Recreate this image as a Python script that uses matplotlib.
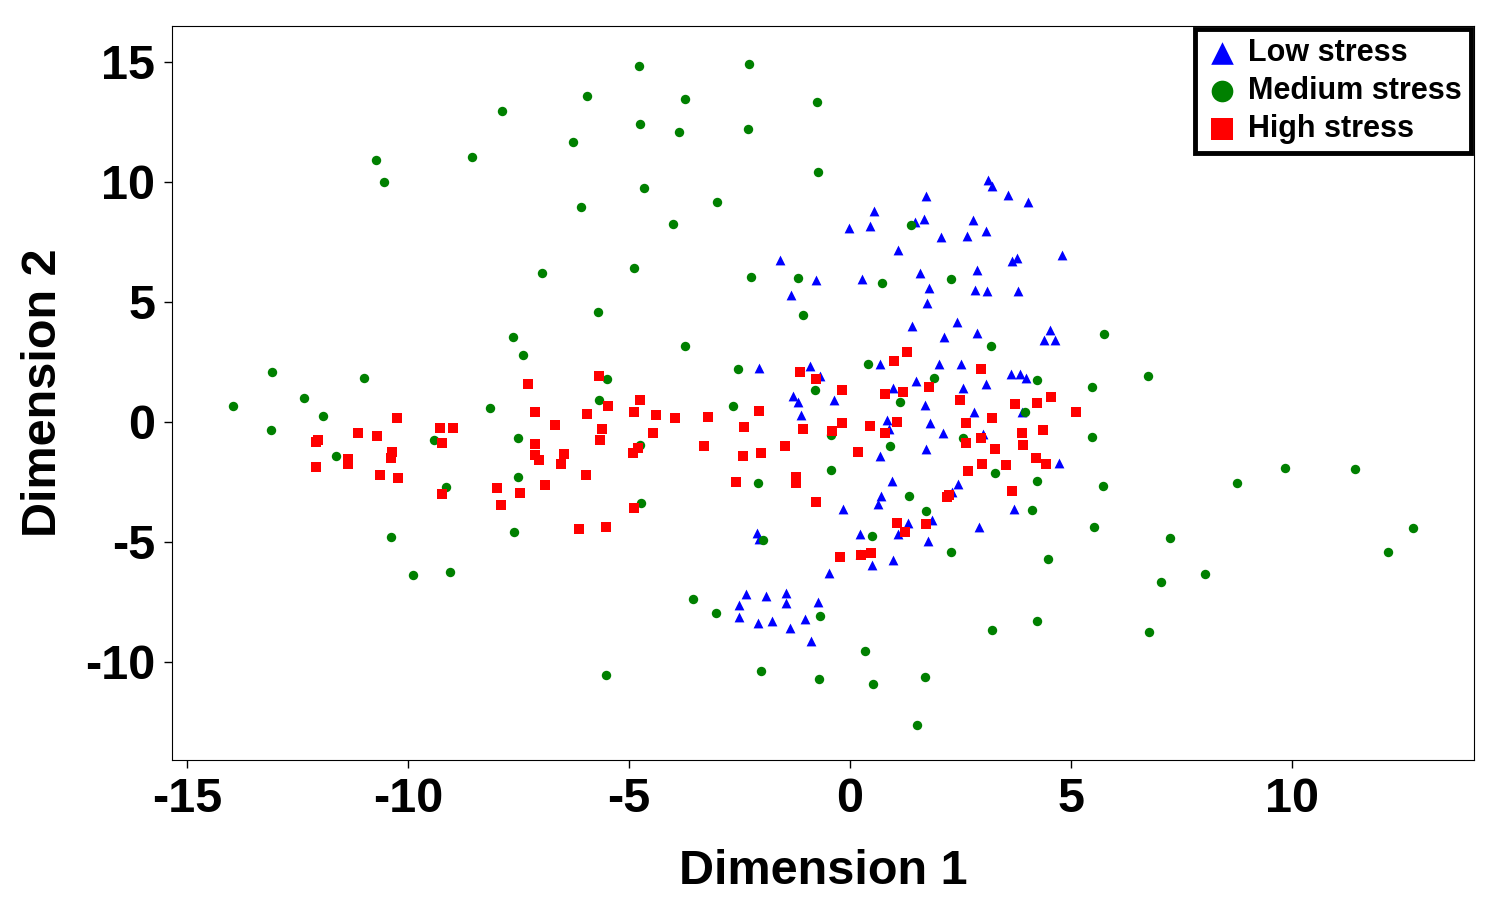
import matplotlib
matplotlib.use("Agg")
import matplotlib.pyplot as plt

plt.rcParams["font.family"] = ["Liberation Sans", "DejaVu Sans"]
plt.rcParams["font.weight"] = "bold"
plt.rcParams["axes.unicode_minus"] = False

# Low stress (blue triangles)
low_x = [3.12, 3.21, 3.57, 4.03, 1.72, 0.54, -0.02, 0.45, 1.47, 1.67, 2.78, 2.06, 2.65, 3.08,
         1.09, -1.58, 3.67, 3.78, 4.80, 1.58, 2.87, -0.77, 0.27, -1.33, 1.79, 2.83, 3.10, 3.80,
         1.74, 1.40, 2.42, 2.13, 2.87, 4.52, 4.39, 4.64, 2.01, 2.51, 0.68, -2.06, -0.90, -0.68,
         1.49, 0.97, 2.56, 3.08, 3.64, 3.85, 3.98, -1.29, -1.18, -0.36, -1.11, 1.70, 2.81, 3.89,
         0.84, 0.88, 1.81, 2.10, 3.01, 1.72, 0.68, 4.73, 0.95, 2.44, 2.31, 0.70, 0.63, -0.16,
         3.71, 1.31, 1.86, 2.92, -2.10, -2.06, 0.23, 1.09, 1.76, 0.23, 0.50, 0.97, -0.48, -2.35,
         -1.90, -1.45, -2.51, -1.45, -0.72, -2.51, -2.08, -1.76, -1.02, -1.36, -0.88]
low_y = [10.08, 9.83, 9.46, 9.13, 9.38, 8.79, 8.08, 8.13, 8.33, 8.46, 8.38, 7.67, 7.75, 7.92,
         7.13, 6.75, 6.71, 6.83, 6.96, 6.21, 6.33, 5.88, 5.96, 5.29, 5.58, 5.50, 5.46, 5.46,
         4.96, 4.00, 4.13, 3.54, 3.71, 3.83, 3.38, 3.42, 2.42, 2.42, 2.38, 2.25, 2.33, 1.88,
         1.71, 1.42, 1.38, 1.58, 2.00, 2.00, 1.83, 1.08, 0.83, 0.88, 0.29, 0.71, 0.38, 0.38,
         0.08, -0.29, -0.04, -0.46, -0.50, -1.13, -1.42, -1.71, -2.46, -2.58, -2.92, -3.08, -3.42, -3.63,
         -3.63, -4.21, -4.08, -4.38, -4.63, -4.88, -4.67, -4.67, -4.96, -5.50, -5.96, -5.75, -6.29, -7.17,
         -7.25, -7.13, -7.63, -7.54, -7.50, -8.13, -8.38, -8.29, -8.21, -8.58, -9.13]

# Medium stress (green circles)
med_x = [-4.77, -2.29, -5.95, -3.73, -7.87, -0.75, -4.75, -3.87, -2.31, -6.27, -10.72, -8.55,
         -10.54, -0.72, -4.66, -6.09, -3.01, -4.00, 1.38, -6.97, -4.89, -2.24, -1.18, 0.72, 2.29,
         -5.70, -1.06, -3.73, -7.62, -7.40, 5.75, 3.19, 0.41, -2.53, -13.08, -12.35, -10.99,
         -13.96, -11.92, -5.50, -5.68, -0.79, 1.90, 4.23, 5.48, 6.74, -8.14, -2.65, 1.13, 3.96,
         -13.10, -9.41, -7.51, -4.75, -0.43, 0.90, 2.56, 5.48, -11.63, -0.43, 3.28, -7.51, -9.14,
         -4.73, -2.08, 1.33, 4.23, 5.72, 8.76, 9.84, 11.43, 4.12, 1.72, 5.52, 12.74, -7.60, -10.38,
         0.50, -1.97, 2.29, 4.48, 7.24, 12.17, -9.89, -9.05, 7.04, 8.03, -3.55, -3.03, -0.68,
         3.21, 4.23, 6.76, 0.34, -5.52, -2.01, -0.70, 0.52, 1.70, 1.52]
med_y = [14.83, 14.88, 13.58, 13.42, 12.92, 13.33, 12.38, 12.08, 12.17, 11.63, 10.88, 11.04,
         10.00, 10.38, 9.75, 8.92, 9.13, 8.25, 8.17, 6.17, 6.38, 6.04, 6.00, 5.79, 5.96,
         4.58, 4.42, 3.17, 3.54, 2.79, 3.63, 3.17, 2.42, 2.21, 2.08, 1.00, 1.83,
         0.67, 0.25, 1.79, 0.88, 1.33, 1.83, 1.75, 1.46, 1.88, 0.58, 0.63, 0.83, 0.38,
         -0.33, -0.75, -0.67, -0.96, -0.54, -1.00, -0.67, -0.63, -1.42, -2.00, -2.13, -2.29, -2.71,
         -3.38, -2.54, -3.08, -2.46, -2.67, -2.54, -1.92, -1.96, -3.67, -3.71, -4.38, -4.42, -4.58, -4.79,
         -4.75, -4.92, -5.42, -5.71, -4.83, -5.42, -6.38, -6.25, -6.67, -6.33, -7.38, -7.96, -8.08,
         -8.67, -8.29, -8.75, -9.54, -10.54, -10.38, -10.71, -10.92, -10.63, -12.63]

# High stress (red squares)
high_x = [-10.25, -11.13, -10.70, -12.08, -12.04, -11.36, -11.36, -12.08, -10.36, -10.38, -10.63,
          -10.23, -9.28, -8.98, -9.23, -9.23, -7.99, -7.90, -7.47, -6.90, -7.29, -7.13, -6.67,
          -7.13, -7.13, -7.04, -6.47, -6.54, -5.97, -5.95, -5.68, -5.48, -5.61, -5.66, -4.75,
          -4.89, -4.39, -3.96, -3.21, -4.46, -4.80, -4.91, -3.30, -2.06, -2.40, -2.42, -2.01,
          -1.47, -2.58, -1.22, -1.22, -0.77, -4.89, -1.13, -0.77, -0.18, -1.06, -0.41, -0.18,
          0.45, 0.79, 1.06, 0.18, 1.00, 1.29, 0.79, 1.20, 1.79, 2.49, 2.96, 2.62, 3.21, 2.62,
          2.96, 3.28, 2.99, 3.53, 2.67, 3.67, 2.19, 2.24, 3.73, 4.23, 3.89, 3.91, 4.21, 4.55,
          5.11, 4.37, 4.43, -5.52, 1.06, 1.24, 1.72, -0.23, 0.25, 0.48, -6.13]
high_y = [0.17, -0.46, -0.58, -0.83, -0.75, -1.54, -1.75, -1.88, -1.25, -1.50, -2.21,
          -2.33, -0.25, -0.25, -0.88, -3.00, -2.75, -3.46, -2.96, -2.63, 1.58, 0.38, -0.13,
          -0.92, -1.38, -1.58, -1.33, -1.75, -2.21, 0.33, 1.92, 0.67, -0.29, -0.75, 0.88,
          0.38, 0.29, 0.13, 0.21, -0.46, -1.08, -1.29, -1.00, 0.46, -0.21, -1.42, -1.29,
          -1.00, -2.50, -2.29, -2.54, -3.33, -3.58, 2.08, 1.79, 1.33, -0.29, -0.38, -0.04,
          -0.17, -0.46, 0.00, -1.25, 2.54, 2.88, 1.17, 1.25, 1.46, 0.92, 2.21, -0.04, 0.17, -0.88,
          -0.67, -1.13, -1.75, -1.79, -2.04, -2.88, -3.13, -3.04, 0.75, 0.79, -0.46, -0.96, -1.50, 1.04,
          0.38, -0.33, -1.75, -4.38, -4.21, -4.58, -4.25, -5.63, -5.54, -5.46, -4.46]

fig = plt.figure(figsize=(15, 9.1), dpi=100)
ax = fig.add_axes([0.1147, 0.1648, 0.8680, 0.8066])

ax.scatter(low_x, low_y, marker="^", s=50, c="#0000FF", linewidths=0, label="Low stress")
ax.scatter(med_x, med_y, marker="o", s=46, c="#008000", linewidths=0, label="Medium stress")
ax.scatter(high_x, high_y, marker="s", s=44, c="#FF0000", linewidths=0, label="High stress")

ax.set_xlim(-15.34, 14.12)
ax.set_ylim(-14.1, 16.48)
ax.set_xticks([-15, -10, -5, 0, 5, 10])
ax.set_yticks([-10, -5, 0, 5, 10, 15])
ax.tick_params(labelsize=35, length=6, width=1, pad=6)
for lab in ax.get_xticklabels() + ax.get_yticklabels():
    lab.set_fontweight("bold")

ax.set_xlabel("Dimension 1", fontsize=35, fontweight="bold", labelpad=20)
ax.set_ylabel("Dimension 2", fontsize=35, fontweight="bold", labelpad=14)

leg = ax.legend(loc="upper right", fontsize=22, markerscale=2.3, frameon=True,
                fancybox=False, framealpha=1, borderpad=0.3, handletextpad=0.25,
                labelspacing=0.25, handlelength=1.2, borderaxespad=0.1)
leg.get_frame().set_edgecolor("black")
leg.get_frame().set_linewidth(3.5)
for t in leg.get_texts():
    t.set_fontweight("bold")

fig.savefig("out.png", dpi=100)
